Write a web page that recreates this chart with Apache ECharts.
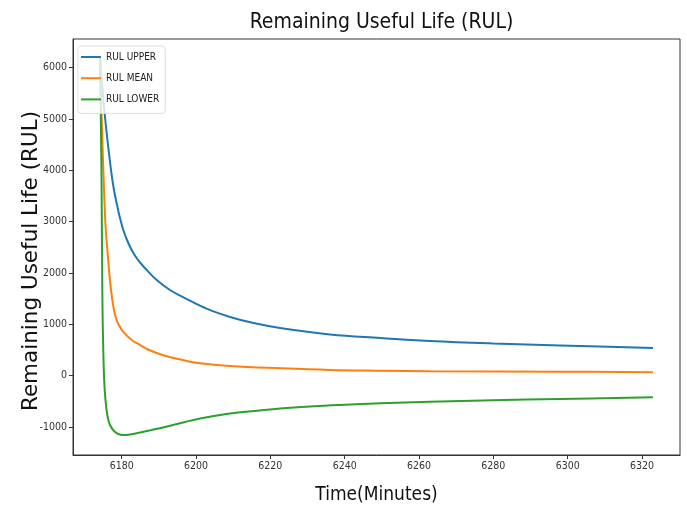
<!DOCTYPE html>
<html>
<head>
<meta charset="utf-8">
<script src="https://cdn.jsdelivr.net/npm/echarts@6/dist/echarts.min.js"></script>
<style>html,body{margin:0;padding:0;background:#fff;}#c{width:687px;height:512px;}</style>
</head>
<body>
<div id="c"></div>
<script>
const xTicks = [6180, 6200, 6220, 6240, 6260, 6280, 6300, 6320];
const yTicks = [-1000, 0, 1000, 2000, 3000, 4000, 5000, 6000];

const upperT = [6174.16, 6175.51, 6177.12, 6177.93, 6178.74, 6179.54, 6180.43, 6181.43, 6182.69, 6184.38, 6186.73, 6189.42, 6193.0, 6197.03, 6203.0, 6209.14, 6215.5, 6222.59, 6236.05, 6249.50, 6262.96, 6279.91, 6297.94, 6322.96];
const upperV = [6188, 5039, 4007, 3617, 3325, 3072, 2839, 2643, 2450, 2255, 2060, 1864, 1669, 1510, 1300, 1144, 1025, 929, 803, 734, 676, 627, 588, 540];

const meanT = [6174.16, 6175.51, 6176.32, 6177.12, 6177.93, 6178.74, 6179.54, 6180.35, 6182.69, 6184.92, 6187.08, 6190.57, 6197.03, 6200.53, 6209.14, 6222.59, 6236.05, 6249.50, 6262.96, 6297.94, 6322.96];
const meanV = [6188, 3130, 2293, 1670, 1280, 1065, 949, 861, 696, 598, 510, 413, 296, 247, 189, 144, 111, 97, 86, 78, 66];

const lowerT = [6174.16, 6174.56, 6174.81, 6175.05, 6175.29, 6175.64, 6176.18, 6176.85, 6177.93, 6179.09, 6180.35, 6182.23, 6184.92, 6188.07, 6191.64, 6197.03, 6200.53, 6209.14, 6222.59, 6236.05, 6249.50, 6262.96, 6279.91, 6297.94, 6322.96];
const lowerV = [6188, 4007, 1474, 501, -84, -473, -785, -961, -1078, -1136, -1156, -1146, -1107, -1058, -999, -902, -844, -736, -639, -577, -537, -509, -479, -454, -421];

const seriesNames = ['RUL UPPER', 'RUL MEAN', 'RUL LOWER'];
const colors = ['#1f77b4', '#ff7f0e', '#2ca02c'];

const zip = (t, v) => t.map((x, i) => [x, v[i]]);
const COND = "'DejaVu Sans Condensed', 'DejaVu Sans', sans-serif";
const axisColor = '#333';
const plain = v => String(Math.round(v));

const chart = echarts.init(document.getElementById('c'), null, {renderer: 'canvas'});
chart.setOption({
  animation: false,
  backgroundColor: '#fff',
  title: {
    text: 'Remaining Useful Life (RUL)',
    left: 376.5, textAlign: 'center', top: 7,
    textStyle: {fontFamily: COND, fontSize: 21, fontWeight: 'normal', color: '#111'}
  },
  grid: {left: 73, right: 7, top: 39, bottom: 57, show: true, borderColor: axisColor, borderWidth: 1, backgroundColor: 'transparent'},
  legend: {
    data: seriesNames.map(n => ({name: n, icon: 'rect'})),
    orient: 'vertical', left: 78, top: 46,
    itemWidth: 20, itemHeight: 2, itemGap: 9.2,
    padding: [5, 6, 8, 3],
    borderColor: '#ddd', borderWidth: 1, borderRadius: 3,
    backgroundColor: 'rgba(255,255,255,0.8)',
    textStyle: {fontFamily: COND, fontSize: 10, color: '#222', lineHeight: 12}
  },
  xAxis: {
    type: 'value', min: 6166.9, max: 6330.23,
    name: 'Time(Minutes)', nameLocation: 'middle', nameGap: 31,
    nameTextStyle: {fontFamily: COND, fontSize: 19, color: '#111'},
    axisLine: {show: true, onZero: false, lineStyle: {color: axisColor, width: 1}},
    axisTick: {show: true, length: 4, customValues: xTicks, lineStyle: {color: axisColor}},
    axisLabel: {customValues: xTicks, formatter: plain, fontFamily: COND, fontSize: 10.5, color: '#333', margin: 6},
    splitLine: {show: false}
  },
  yAxis: {
    type: 'value', min: -1545, max: 6558,
    name: 'Remaining Useful Life (RUL)', nameLocation: 'middle', nameGap: 31, nameRotate: 90,
    nameMoveOverlap: false,
    nameTextStyle: {fontFamily: "'DejaVu Sans', sans-serif", fontSize: 21.5, color: '#111', padding: [0, 28, 0, 0]},
    axisLine: {show: true, onZero: false, lineStyle: {color: axisColor, width: 1}},
    axisTick: {show: true, length: 4, customValues: yTicks, lineStyle: {color: axisColor}},
    axisLabel: {customValues: yTicks, formatter: plain, fontFamily: COND, fontSize: 10.5, color: '#333', margin: 6},
    splitLine: {show: false}
  },
  series: [
    {name: seriesNames[0], type: 'line', data: zip(upperT, upperV)},
    {name: seriesNames[1], type: 'line', data: zip(meanT, meanV)},
    {name: seriesNames[2], type: 'line', data: zip(lowerT, lowerV)}
  ].map((s, i) => Object.assign(s, {
    symbol: 'none', smooth: 0.4, color: colors[i], z: 2,
    lineStyle: {width: 2, color: colors[i]},
    itemStyle: {color: colors[i]}
  }))
});
</script>
</body>
</html>
